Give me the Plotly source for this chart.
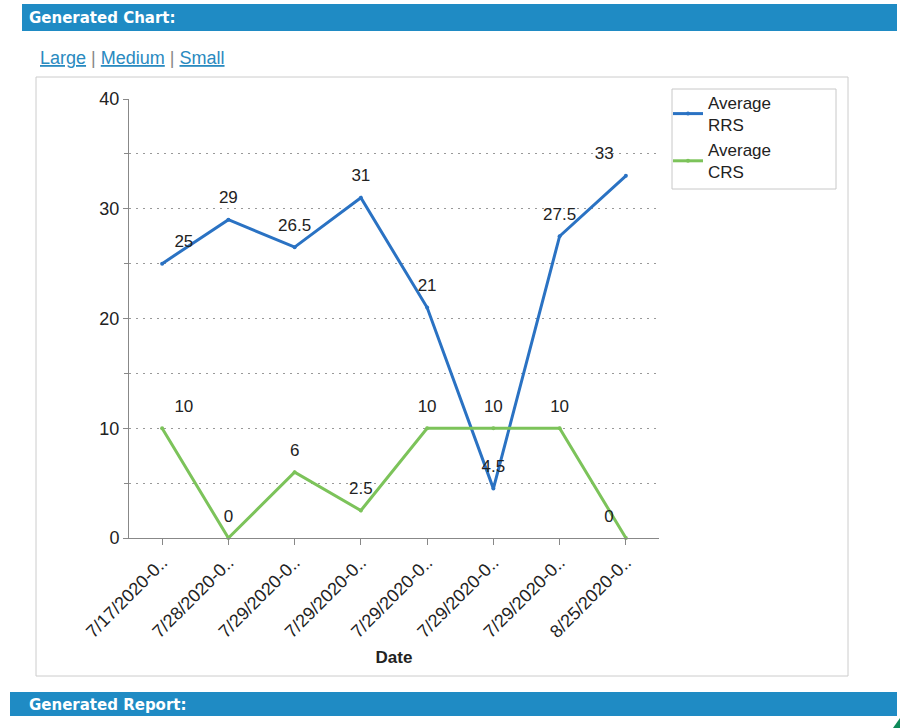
import plotly.graph_objects as go

# ---- data ----
date_labels = ["7/17/2020-0..", "7/28/2020-0..", "7/29/2020-0..", "7/29/2020-0..",
               "7/29/2020-0..", "7/29/2020-0..", "7/29/2020-0..", "8/25/2020-0.."]
avg_rrs = [25, 29, 26.5, 31, 21, 4.5, 27.5, 33]
avg_crs = [10, 0, 6, 2.5, 10, 10, 10, 0]
y_major = [0, 10, 20, 30, 40]
y_minor = [5, 10, 15, 20, 25, 30, 35]

x_idx = list(range(len(date_labels)))

# ---- layout geometry (pixels) ----
W, H = 900, 728
PL, PR, PT, PB = 129, 659, 99, 538


def px(x):
    return (x - PL) / (PR - PL)


def py(y):
    return (PB - y) / (PB - PT)


FONT = "Liberation Sans, Arial, sans-serif"
BLUE = "#2a72c3"
GREEN = "#7cc35a"
TXT = "#222222"

rrs_pos = ["top right", "top center", "top center", "top center",
           "top center", "top center", "top center", "top left"]
crs_pos = ["top right", "top center", "top center", "top center",
           "top center", "top center", "top center", "top left"]

fig = go.Figure()
for name, vals, color in [("Average<br>RRS", avg_rrs, BLUE),
                          ("Average<br>CRS", avg_crs, GREEN)]:
    fig.add_trace(go.Scatter(
        x=x_idx, y=vals, name=name, mode="lines+markers",
        line=dict(color=color, width=3), marker=dict(size=4, color=color),
        cliponaxis=False,
    ))
for vals, pos in [(avg_rrs, rrs_pos), (avg_crs, crs_pos)]:
    # value labels (invisible markers only used to space text from the points)
    fig.add_trace(go.Scatter(
        x=x_idx, y=vals, mode="markers+text", showlegend=False, hoverinfo="skip",
        marker=dict(size=18, opacity=0),
        text=[f"{v:g}" for v in vals], textposition=pos,
        textfont=dict(family=FONT, size=17, color=TXT), cliponaxis=False,
    ))

shapes = [
    # top header bar
    dict(type="rect", xref="paper", yref="paper", x0=px(22), x1=px(897), y0=py(31), y1=py(4),
         fillcolor="#1f8bc4", line=dict(width=0), layer="below"),
    # bottom header bar
    dict(type="rect", xref="paper", yref="paper", x0=px(10), x1=px(897), y0=py(716), y1=py(692),
         fillcolor="#1f8bc4", line=dict(width=0), layer="below"),
    # chart border box
    dict(type="rect", xref="paper", yref="paper", x0=px(36), x1=px(848), y0=py(676), y1=py(77),
         fillcolor="rgba(0,0,0,0)", line=dict(color="#cccccc", width=1), layer="below"),
    # legend box
    dict(type="rect", xref="paper", yref="paper", x0=px(672), x1=px(836), y0=py(189), y1=py(89),
         fillcolor="rgba(0,0,0,0)", line=dict(color="#c8c8c8", width=1), layer="below"),
    # green corner
    dict(type="path", xref="paper", yref="paper",
         path=f"M {px(893)} {py(728)} L {px(900)} {py(718)} L {px(900)} {py(728)} Z",
         fillcolor="#0f8a5a", line=dict(width=0)),
]

annotations = [
    dict(text="<b>Generated Chart:</b>", xref="paper", yref="paper", x=px(27), y=py(18),
         xanchor="left", yanchor="middle", showarrow=False,
         font=dict(family="DejaVu Sans, sans-serif", size=15, color="white")),
    dict(text="<b>Generated Report:</b>", xref="paper", yref="paper", x=px(27), y=py(705),
         xanchor="left", yanchor="middle", showarrow=False,
         font=dict(family="DejaVu Sans, sans-serif", size=15, color="white")),
    dict(text="<u>Large</u> <span style='color:#888'>|</span> <u>Medium</u> "
              "<span style='color:#888'>|</span> <u>Small</u>",
         xref="paper", yref="paper", x=px(38), y=py(58),
         xanchor="left", yanchor="middle", showarrow=False,
         font=dict(family=FONT, size=18, color="#2a8ac0")),
]

fig.update_layout(
    width=W, height=H,
    margin=dict(l=PL, r=W - PR, t=PT, b=H - PB, autoexpand=False),
    paper_bgcolor="white", plot_bgcolor="white",
    font=dict(family=FONT, color=TXT),
    shapes=shapes, annotations=annotations,
    showlegend=True,
    legend=dict(x=px(668), y=py(85), xanchor="left", yanchor="top",
                borderwidth=0, bgcolor="rgba(0,0,0,0)",
                font=dict(family=FONT, size=17, color=TXT),
                itemwidth=30),
    xaxis=dict(
        range=[-0.5, len(date_labels) - 0.5],
        tickvals=x_idx, ticktext=date_labels, tickangle=-45,
        tickfont=dict(family=FONT, size=18, color=TXT),
        ticks="outside", ticklen=6, tickcolor="#888",
        showline=True, linecolor="#888", linewidth=1,
        showgrid=False, zeroline=False,
        title=dict(text="<b>Date</b>", font=dict(family=FONT, size=17, color=TXT), standoff=10),
    ),
    yaxis=dict(
        range=[0, 40], tickvals=y_major, ticktext=[str(v) for v in y_major],
        tickfont=dict(family=FONT, size=18, color=TXT),
        ticks="outside", ticklen=5, tickcolor="#888",
        showline=True, linecolor="#888", linewidth=1,
        showgrid=False, zeroline=False,
        minor=dict(tickvals=y_minor, ticks="outside", ticklen=4, tickcolor="#888",
                   showgrid=True, gridcolor="#999999", griddash="2px,5px", gridwidth=1),
    ),
)

fig.write_html("out.html")
